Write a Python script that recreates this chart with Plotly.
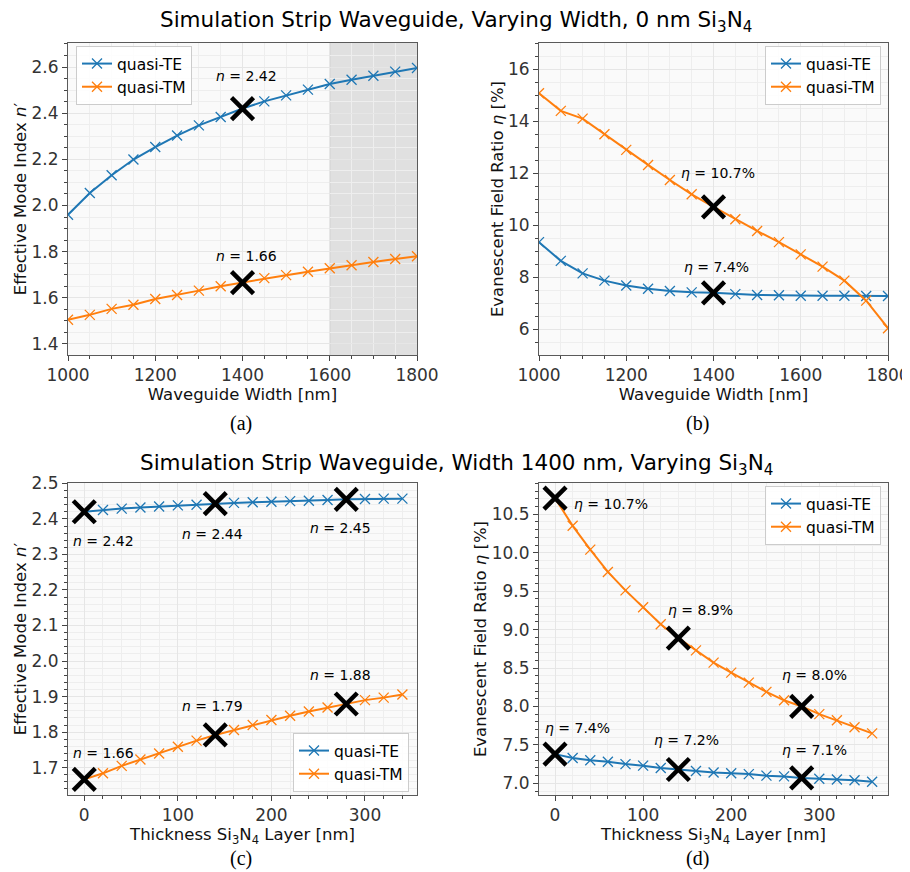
import plotly.graph_objects as go

# ---------------- data ----------------
width_nm = [1000, 1050, 1100, 1150, 1200, 1250, 1300, 1350, 1400,
            1450, 1500, 1550, 1600, 1650, 1700, 1750, 1800]
a_te = [1.960, 2.054, 2.131, 2.199, 2.253, 2.303, 2.347, 2.383, 2.420,
        2.451, 2.477, 2.502, 2.526, 2.545, 2.562, 2.580, 2.596]
a_tm = [1.505, 1.526, 1.552, 1.570, 1.595, 1.612, 1.631, 1.650, 1.666,
        1.685, 1.698, 1.713, 1.728, 1.741, 1.755, 1.768, 1.780]
b_te = [9.35, 8.63, 8.15, 7.87, 7.68, 7.56, 7.47, 7.42, 7.40,
        7.35, 7.32, 7.31, 7.29, 7.29, 7.29, 7.28, 7.28]
b_tm = [15.08, 14.40, 14.10, 13.50, 12.90, 12.32, 11.74, 11.19, 10.71,
        10.23, 9.78, 9.35, 8.88, 8.41, 7.87, 7.10, 6.04]

thick_c = [0, 20, 40, 60, 80, 100, 120, 140, 160, 180, 200, 220, 240,
           260, 280, 300, 320, 340]
c_te = [2.420, 2.425, 2.429, 2.432, 2.435, 2.438, 2.440, 2.443, 2.445,
        2.447, 2.448, 2.450, 2.451, 2.453, 2.455, 2.456, 2.457, 2.457]
c_tm = [1.667, 1.684, 1.705, 1.723, 1.740, 1.759, 1.776, 1.792, 1.806,
        1.820, 1.834, 1.846, 1.858, 1.869, 1.879, 1.890, 1.897, 1.906]

thick_d = [0, 20, 40, 60, 80, 100, 120, 140, 160, 180, 200, 220, 240,
           260, 280, 300, 320, 340, 360]
d_te = [7.38, 7.33, 7.30, 7.28, 7.25, 7.23, 7.20, 7.18, 7.16, 7.14,
        7.13, 7.12, 7.10, 7.09, 7.07, 7.06, 7.05, 7.04, 7.02]
d_tm = [10.71, 10.35, 10.04, 9.75, 9.51, 9.29, 9.07, 8.89, 8.73, 8.57,
        8.44, 8.31, 8.19, 8.08, 8.00, 7.90, 7.82, 7.73, 7.65]

mark_width = [1400]
mark_thick = [0, 140, 280]

a_labels = ["2.42", "1.66"]
b_labels = ["10.7%", "7.4%"]
c_te_labels = ["2.42", "2.44", "2.45"]
c_tm_labels = ["1.66", "1.79", "1.88"]
d_tm_labels = ["10.7%", "8.9%", "8.0%"]
d_te_labels = ["7.4%", "7.2%", "7.1%"]

series_names = ["quasi-TE", "quasi-TM"]
title_top = "Simulation Strip Waveguide, Varying Width, 0 nm Si<sub>3</sub>N<sub>4</sub>"
title_bottom = "Simulation Strip Waveguide, Width 1400 nm, Varying Si<sub>3</sub>N<sub>4</sub>"
captions = ["(a)", "(b)", "(c)", "(d)"]

# ---------------- style ----------------
C_TE = "#1f77b4"
C_TM = "#ff7f0e"
FONT = "DejaVu Sans"
OFF = 8                      # page body margin of the browser
W, H = 910 - OFF, 872 - OFF  # figure size so that it fills the window
NOTE_SIZE = 14


def px_x(x):
    return (x - OFF) / W


def px_y(y):
    return 1 - (y - OFF) / H


def ital(sym):
    return ('<span style="font-style:italic;font-size:%dpx">%s</span>'
            % (NOTE_SIZE, sym))


fig = go.Figure()

axes_ids = [("x", "y", "legend"), ("x2", "y2", "legend2"),
            ("x3", "y3", "legend3"), ("x4", "y4", "legend4")]
panels = [
    (width_nm, a_te, a_tm),
    (width_nm, b_te, b_tm),
    (thick_c, c_te, c_tm),
    (thick_d, d_te, d_tm),
]

for (xa, ya, lg), (xs, te, tm) in zip(axes_ids, panels):
    for name, ys, col in zip(series_names, [te, tm], [C_TE, C_TM]):
        fig.add_trace(go.Scatter(
            x=xs, y=ys, mode="lines+markers", name=name,
            line=dict(color=col, width=2),
            marker=dict(symbol="x-thin", size=10,
                        line=dict(color=col, width=1.3)),
            xaxis=xa, yaxis=ya, legend=lg, showlegend=True))


def big_marks(xs_all, ys_all, picks, xa, ya):
    px = [v for v in picks]
    py = [ys_all[xs_all.index(v)] for v in picks]
    fig.add_trace(go.Scatter(
        x=px, y=py, mode="markers", showlegend=False,
        marker=dict(symbol="x-thin", size=22,
                    line=dict(color="black", width=4.5)),
        xaxis=xa, yaxis=ya, hoverinfo="skip"))


big_marks(width_nm, a_te, mark_width, "x", "y")
big_marks(width_nm, a_tm, mark_width, "x", "y")
big_marks(width_nm, b_tm, mark_width, "x2", "y2")
big_marks(width_nm, b_te, mark_width, "x2", "y2")
big_marks(thick_c, c_te, mark_thick, "x3", "y3")
big_marks(thick_c, c_tm, mark_thick, "x3", "y3")
big_marks(thick_d, d_tm, mark_thick, "x4", "y4")
big_marks(thick_d, d_te, mark_thick, "x4", "y4")

annotations = []


def note(xref, yref, x, y, text):
    annotations.append(dict(
        xref=xref, yref=yref, x=x, y=y, text=text, showarrow=False,
        xanchor="center", yanchor="middle",
        font=dict(family=FONT, size=NOTE_SIZE, color="black")))


# (a)
note("x", "y", 1410, 2.56, ital("n") + " = " + a_labels[0])
note("x", "y", 1410, 1.78, ital("n") + " = " + a_labels[1])
# (b)
note("x2", "y2", 1410, 12.0, ital("η") + " = " + b_labels[0])
note("x2", "y2", 1408, 8.41, ital("η") + " = " + b_labels[1])
# (c)
for xv, yv, t in zip([21, 137, 274], [2.339, 2.358, 2.374], c_te_labels):
    note("x3", "y3", xv, yv, ital("n") + " = " + t)
for xv, yv, t in zip([21, 137, 274], [1.740, 1.873, 1.960], c_tm_labels):
    note("x3", "y3", xv, yv, ital("n") + " = " + t)
# (d)
for xv, yv, t in zip([63, 165, 295], [10.63, 9.26, 8.41], d_tm_labels):
    note("x4", "y4", xv, yv, ital("η") + " = " + t)
for xv, yv, t in zip([26, 149, 295], [7.72, 7.56, 7.43], d_te_labels):
    note("x4", "y4", xv, yv, ital("η") + " = " + t)

# titles and captions
for txt, yp in [(title_top, 21.5), (title_bottom, 464)]:
    annotations.append(dict(
        xref="paper", yref="paper", x=px_x(456), y=px_y(yp), text=txt,
        showarrow=False, xanchor="center", yanchor="middle",
        font=dict(family=FONT, size=21.5, color="black")))
for txt, xp, yp in zip(captions, [241, 697, 241, 697], [423, 423, 858, 858]):
    annotations.append(dict(
        xref="paper", yref="paper", x=px_x(xp), y=px_y(yp), text=txt,
        showarrow=False, xanchor="center", yanchor="middle",
        font=dict(family="Liberation Serif", size=20, color="black")))


def xaxis(domain, rng, dtick, tick0, mdtick, anchor, title):
    return dict(
        domain=domain, range=rng, anchor=anchor, dtick=dtick, tick0=tick0,
        automargin=False,
        showgrid=True, gridcolor="#e6e6e6", gridwidth=1, zeroline=False,
        showline=True, linecolor="#5a5a5a", linewidth=1, mirror=True,
        ticks="outside", ticklen=5, tickcolor="#444", tickwidth=1,
        tickfont=dict(family=FONT, size=17, color="#333"),
        minor=dict(dtick=mdtick, tick0=tick0, showgrid=True,
                   gridcolor="#eeeeee", ticks="outside", ticklen=3,
                   tickcolor="#444"),
        title=dict(text=title, font=dict(family=FONT, size=16.5, color="#111"),
                   standoff=1))


def yaxis(domain, rng, dtick, tick0, mdtick, anchor, title, fmt):
    d = xaxis(domain, rng, dtick, tick0, mdtick, anchor, title)
    d["tickformat"] = fmt
    d["title"]["standoff"] = 0
    return d


xa_dom_l = [px_x(68), px_x(417)]
xa_dom_r = [px_x(539), px_x(888)]
ya_dom_t = [px_y(355), px_y(43)]
ya_dom_b = [px_y(795), px_y(483)]

xt_w = "Waveguide Width [nm]"
xt_t = "Thickness Si<sub>3</sub>N<sub>4</sub> Layer [nm]"
yt_n = "Effective Mode Index <i>n</i>′"
yt_e = "Evanescent Field Ratio <i>η</i> [%]"

legend_style = dict(bgcolor="rgba(255,255,255,0.85)", bordercolor="#cccccc",
                    borderwidth=1, font=dict(family=FONT, size=15.5,
                                             color="black"),
                    tracegroupgap=0)

fig.update_layout(
    width=W, height=H, margin=dict(l=0, r=0, t=0, b=0, autoexpand=False),
    paper_bgcolor="white", plot_bgcolor="#fafafa",
    font=dict(family=FONT, color="black"),
    xaxis=xaxis(xa_dom_l, [1000, 1800], 200, 1000, 50, "y", xt_w),
    yaxis=yaxis(ya_dom_t, [1.352, 2.704], 0.2, 1.4, 0.05, "x", yt_n, ".1f"),
    xaxis2=xaxis(xa_dom_r, [1000, 1800], 200, 1000, 50, "y2", xt_w),
    yaxis2=yaxis(ya_dom_t, [5.01, 17.01], 2, 6, 0.5, "x2", yt_e, "d"),
    xaxis3=xaxis(xa_dom_l, [-17.4, 355.6], 100, 0, 20, "y3", xt_t),
    yaxis3=yaxis(ya_dom_b, [1.623, 2.501], 0.1, 1.7, 0.02, "x3", yt_n, ".1f"),
    xaxis4=xaxis(xa_dom_r, [-18.2, 378], 100, 0, 20, "y4", xt_t),
    yaxis4=yaxis(ya_dom_b, [6.848, 10.907], 0.5, 7.0, 0.1, "x4", yt_e, ".1f"),
    legend=dict(x=px_x(76), y=px_y(46), xanchor="left", yanchor="top",
                **legend_style),
    legend2=dict(x=px_x(881), y=px_y(46), xanchor="right", yanchor="top",
                 **legend_style),
    legend3=dict(x=px_x(409), y=px_y(792), xanchor="right",
                 yanchor="bottom", **legend_style),
    legend4=dict(x=px_x(881), y=px_y(486), xanchor="right", yanchor="top",
                 **legend_style),
    annotations=annotations,
    shapes=[
        dict(type="rect", xref="x", yref="y domain", x0=1600, x1=1800,
             y0=0, y1=1, fillcolor="#e0e0e0", line=dict(width=0),
             layer="below"),
        dict(type="line", xref="x", yref="y domain", x0=1600, x1=1600,
             y0=0, y1=1, line=dict(color="#d2d2d2", width=1.5),
             layer="below"),
    ],
)

fig.write_html("out.html")
